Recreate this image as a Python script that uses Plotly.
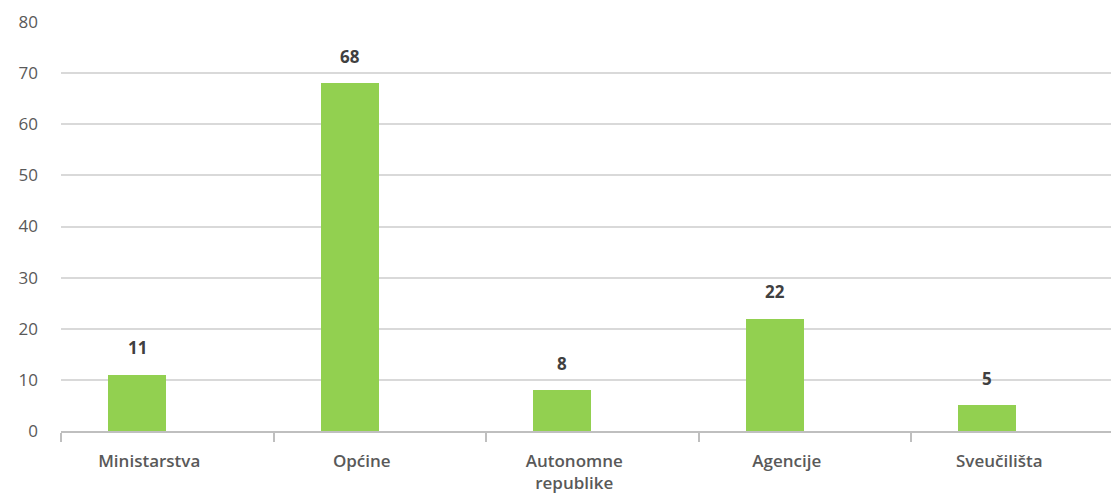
import plotly.graph_objects as go

categories = ["Ministarstva", "Općine", "Autonomne<br>republike", "Agencije", "Sveučilišta"]
values = [11, 68, 8, 22, 5]
y_ticks = [0, 10, 20, 30, 40, 50, 60, 70, 80]

BAR_COLOR = "#92D050"
GRID = "#D9D9D9"
TEXT = "#595959"

fig = go.Figure()
fig.add_trace(go.Bar(
    x=categories,
    y=values,
    marker=dict(color=BAR_COLOR, line=dict(width=0)),
    width=0.273,
    offset=-0.278,
    hoverinfo="x+y",
))

for c, v in zip(categories, values):
    fig.add_annotation(
        x=c, y=v, text=f"<b>{v}</b>", showarrow=False,
        xshift=-30, yshift=27, yanchor="middle",
        font=dict(family="Open Sans", size=17, color="#404040"),
    )

fig.update_layout(
    width=1111, height=499,
    margin=dict(l=61, r=0, t=22, b=68, autoexpand=False),
    paper_bgcolor="white", plot_bgcolor="white",
    showlegend=False,
    bargap=0,
)
fig.update_xaxes(
    type="category",
    range=[-0.5, 4.441],
    tickmode="array", tickvals=categories, ticktext=categories,
    tickson="boundaries",
    ticks="outside", ticklen=9, tickcolor="#BFBFBF", tickwidth=1.5,
    showline=True, linecolor="#BFBFBF", linewidth=1.5,
    showgrid=False,
    automargin=False,
    ticklabelshift=-18,
    ticklabelstandoff=14,
    tickfont=dict(family="Open Sans", size=17, color=TEXT, weight=600),
)
fig.update_yaxes(
    range=[0, 80],
    tickmode="array", tickvals=y_ticks,
    showgrid=True, gridcolor=GRID, gridwidth=1.5,
    zeroline=False,
    showline=False,
    automargin=False,
    ticklabelstandoff=22,
    tickfont=dict(family="Open Sans", size=17, color=TEXT),
)

fig.write_html(
    "out.html",
    config={"displayModeBar": False},
    post_script="document.body.style.margin='0';document.body.style.padding='0';",
)
